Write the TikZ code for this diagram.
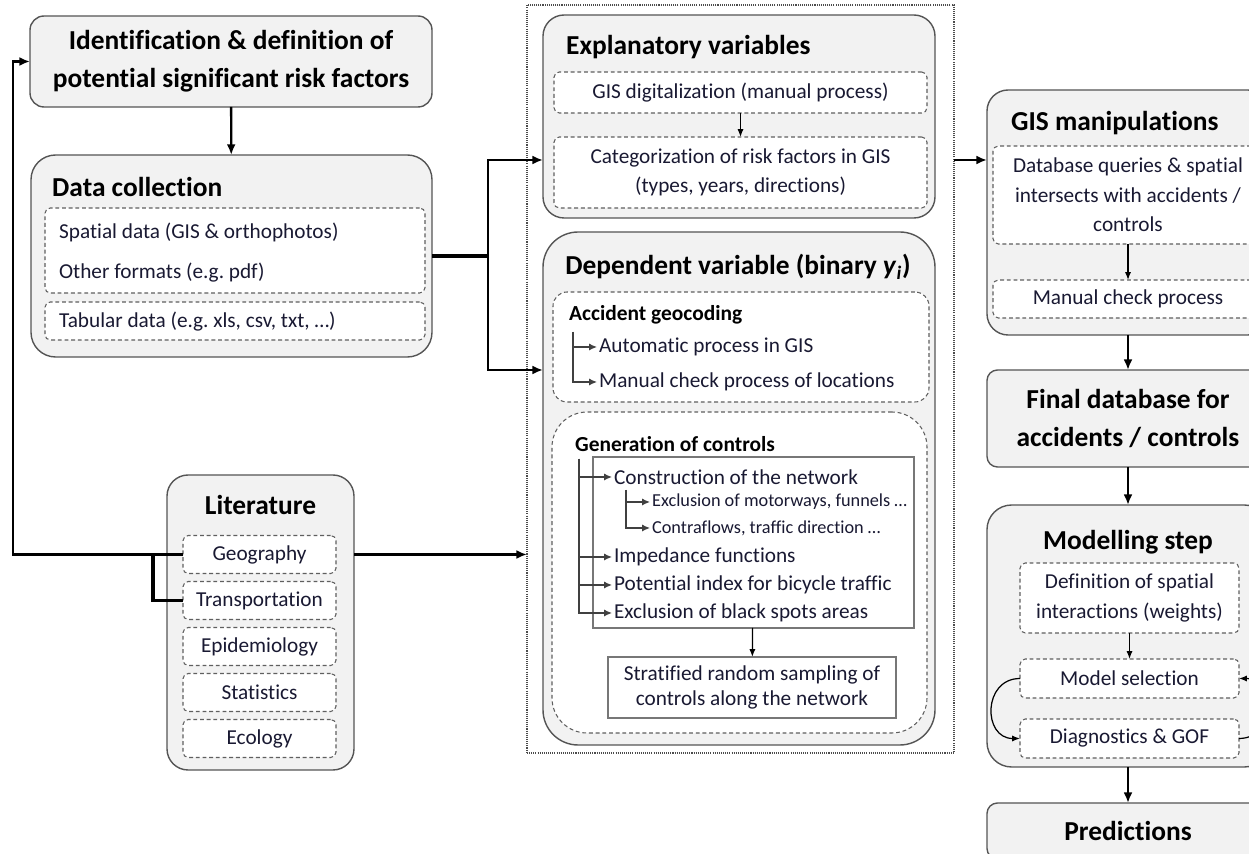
\documentclass[tikz,border=0pt]{standalone}
\usepackage{fontspec}
\setmainfont{Carlito}[Ligatures=NoCommon]
\usetikzlibrary{arrows.meta,positioning}
\definecolor{boxfill}{RGB}{242,242,242}
\definecolor{boxline}{RGB}{85,85,85}
\definecolor{dashline}{RGB}{95,95,95}
\definecolor{txt}{RGB}{25,25,50}
\begin{document}
\begin{tikzpicture}[x=0.02cm, y=-0.02cm,
    sz/.style 2 args={minimum width=#1*0.02cm, minimum height=#2*0.02cm, inner sep=0pt, outer sep=0pt},
    panel/.style={draw=boxline, fill=boxfill, line width=0.8pt, rounded corners=#1},
    panel/.default=6pt,
    item/.style={draw=dashline, fill=white, line width=0.6pt, dash pattern=on 2.2pt off 1.6pt, rounded corners=#1},
    item/.default=3pt,
    plainbox/.style={draw=boxline!80, fill=white, line width=0.6pt},
    head/.style={font=\bfseries\fontsize{15.6}{21.5}\selectfont, text=black, align=center},
    subhead/.style={font=\bfseries\fontsize{15.6}{18}\selectfont, text=black},
    minorhead/.style={font=\bfseries\fontsize{12.2}{14}\selectfont, text=black, inner sep=1pt},
    body/.style={font=\fontsize{12.1}{16.8}\selectfont, text=txt, align=center},
    leaf/.style={font=\fontsize{12.1}{14}\selectfont, text=txt, anchor=west, inner sep=1pt},
    tiny/.style={font=\fontsize{10.4}{12}\selectfont},
    flow/.style={line width=1.3pt, -{Latex[length=6pt,width=5pt]}},
    link/.style={line width=0.7pt, -{Latex[length=4.5pt,width=3.5pt]}},
    twig/.style={line width=0.7pt, draw=black!75, -{Latex[length=4.5pt,width=4pt]}},
  ]
  \useasboundingbox (0,0) rectangle (1249,854);
  \clip (0,0) rectangle (1249,854);

  % left column
  \node[panel=8pt, sz={402}{91}, head] (ident) at (231,61.5) {Identification \& definition of\\potential significant risk factors};
  \node[panel=14pt, sz={401}{202}] (data) at (231.5,256) {};
  \node[subhead, anchor=west] (datat) at (46,187) {Data collection};
  \node[item, sz={380}{85}] (data1) at (235,250.5) {};
  \node[leaf] (spat) at (57,232) {Spatial data (GIS \& orthophotos)};
  \node[leaf] (other) at (57,273) {Other formats (e.g.\ pdf)};
  \node[item, sz={380}{38}] (data2) at (235,321) {};
  \node[leaf] (tab) at (57,322) {Tabular data (e.g.\ xls, csv, txt, \dots)};

  % literature
  \node[panel=12pt, sz={187}{295}] (lit) at (260.5,622.5) {};
  \node[subhead] (litt) at (260.5,505) {Literature};
  \foreach \n/\t [count=\i] in {geo/Geography, tra/Transportation, epi/Epidemiology, sta/Statistics, eco/Ecology}
    \node[item, sz={153}{38}, body] (\n) at (259.5,508.5+46*\i) {\t};

  % dotted frame
  \node[draw=black!70, line width=0.6pt, dash pattern=on 0.6pt off 0.6pt, sz={427}{748}] (frame) at (740.5,379) {};

  % explanatory variables
  \node[panel=12pt, sz={392}{203}] (expl) at (739,116.5) {};
  \node[subhead, anchor=west] (explt) at (560,47) {Explanatory variables};
  \node[item, sz={373}{41}, body] (dig) at (740.5,92.5) {GIS digitalization (manual process)};
  \node[item, sz={373}{71}, body] (cat) at (740.5,172.5) {Categorization of risk factors in GIS\\(types, years, directions)};
  \draw[link] (dig) -- (cat);

  % dependent variable
  \node[panel=20pt, sz={392}{513}] (dep) at (739,488.5) {};
  \node[head] (dept) at (738,267) {Dependent variable (binary \textit{y}\textsubscript{\textit{i}})};
  \node[item=8pt, sz={376}{110}] (geoc) at (741,347) {};
  \node[minorhead, anchor=west] (geoct) at (567,315) {Accident geocoding};
  \node[leaf] (auto) at (597,347) {Automatic process in GIS};
  \node[leaf] (manu) at (597,382) {Manual check process of locations};
  \coordinate (geocroot) at (573,332);
  \draw[twig] (geocroot) |- (auto.west);
  \draw[twig] (geocroot) |- (manu.west);

  \node[item=20pt, sz={375}{321}] (gen) at (739.5,572.5) {};
  \node[minorhead, anchor=west] (gent) at (573,444) {Generation of controls};
  \node[plainbox, sz={321}{171}] (net) at (753.5,542.5) {};
  \node[leaf] (cons) at (612,477) {Construction of the network};
  \node[leaf, tiny] (motw) at (650,502) {Exclusion of motorways, funnels \dots};
  \node[leaf, tiny] (contra) at (650,528) {Contraflows, traffic direction \dots};
  \node[leaf] (imp) at (612,557) {Impedance functions};
  \node[leaf] (pot) at (612,585) {Potential index for bicycle traffic};
  \node[leaf] (black) at (612,613) {Exclusion of black spots areas};
  \coordinate (genroot) at (579,459);
  \coordinate (consroot) at (626,490);
  \foreach \n in {cons,imp,pot,black}
    \draw[twig] (genroot) |- (\n.west);
  \foreach \n in {motw,contra}
    \draw[twig] (consroot) |- (\n.west);
  \node[plainbox, sz={288}{61}, body, font=\fontsize{12.1}{14.5}\selectfont] (strat) at (752,687.5) {Stratified random sampling of\\controls along the network};
  \draw[link] (net) -- (strat);

  % right column
  \node[panel=12pt, sz={282}{245}] (gis) at (1128,212.5) {};
  \node[subhead, anchor=west] (gist) at (1005,123) {GIS manipulations};
  \node[item, sz={270}{98}, body] (query) at (1128,195) {Database queries \& spatial\\intersects with accidents /\\controls};
  \node[item, sz={270}{38}, body] (check) at (1128,299) {Manual check process};
  \draw[link] (query) -- (check);
  \node[panel=6pt, sz={282}{97}, head] (final) at (1128,418.5) {Final database for\\accidents / controls};
  \node[panel=14pt, sz={282}{262}] (model) at (1128,636) {};
  \node[head] (modelt) at (1128,542) {Modelling step};
  \node[item, sz={219}{70}, body] (weights) at (1129.5,598) {Definition of spatial\\interactions (weights)};
  \node[item, sz={219}{39}, body] (select) at (1129.5,678.5) {Model selection};
  \node[item, sz={219}{39}, body] (diag) at (1129.5,738.5) {Diagnostics \& GOF};
  \node[panel=6pt, sz={282}{56}, head] (pred) at (1128,831) {Predictions};

  % connectors
  \coordinate (fork) at (488,256);
  \coordinate (forkup) at (488,160);
  \coordinate (forkdn) at (488,370);
  \coordinate (back) at (13,300);
  \draw[flow] (ident) -- (data);
  \draw[line width=2.2pt] (data.east) -- (fork);
  \draw[flow] (fork) -- (forkup) -- (expl.west |- forkup);
  \draw[flow] (fork) -- (forkdn) -- (dep.west |- forkdn);
  \draw[flow] (frame.east |- forkup) -- (gis.west |- forkup);
  \draw[flow] (gis) -- (final);
  \draw[flow] (final) -- (model);
  \draw[flow] (model) -- (pred);
  \draw[link] (weights) -- (select);
  \draw[link] (select.west) to[out=180, in=180, looseness=1.6] (diag.west);
  \draw[link] (diag.east) to[out=0, in=0, looseness=1.6] (select.east);
  \draw[flow] (geo.west) -| (back) |- (ident.west);
  \draw[line width=2.2pt] (geo.west) -- ++(-30,0) |- (tra.west);
  \draw[flow] (lit.east |- geo) -- (frame.west |- geo);
\end{tikzpicture}
\end{document}
